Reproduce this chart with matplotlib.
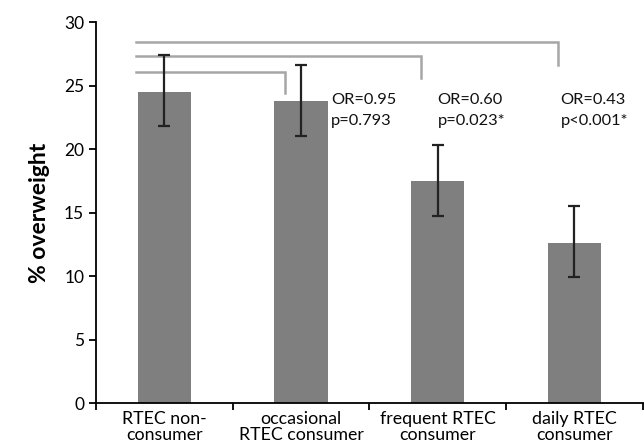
import numpy as np
import matplotlib.pyplot as plt

plt.rcParams['font.family'] = ['Lato', 'DejaVu Sans']

# --- Dados ---
categorias = ["RTEC non-\nconsumer", "occasional\nRTEC consumer",
              "frequent RTEC\nconsumer", "daily RTEC\nconsumer"]
valores = [24.5, 23.8, 17.5, 12.6]
erro_inf = [21.8, 21.0, 14.7, 9.9]
erro_sup = [27.4, 26.6, 20.3, 15.5]

anotacoes = ["OR=0.95\np=0.793", "OR=0.60\np=0.023*", "OR=0.43\np<0.001*"]
# brackets: altura da linha horizontal e altura onde termina a descida
bracket_y = [26.1, 27.35, 28.45]
bracket_fim = [24.45, 25.6, 26.6]

x = np.arange(len(categorias))
valores = np.array(valores)
yerr = [valores - np.array(erro_inf), np.array(erro_sup) - valores]

fig = plt.figure(figsize=(6.44, 4.44), dpi=100)
ax = fig.add_axes([0.149, 0.092, 0.849, 0.858])

ax.bar(x, valores, width=0.39, color="#7f7f7f", zorder=2)
ax.errorbar(x, valores, yerr=yerr, fmt="none", ecolor="#222222",
            elinewidth=1.6, capsize=4, capthick=1.6, zorder=3)

# brackets de comparação
inicio = -0.21
for i, (yb, yf) in enumerate(zip(bracket_y, bracket_fim)):
    fim = x[i + 1] - 0.12
    ax.plot([inicio, fim, fim], [yb, yb, yf], color="#a6a6a6", lw=1.8,
            solid_joinstyle="miter", zorder=1)

# textos OR / p
text_x = [1.22, 2.0, 2.9]
for tx, txt in zip(text_x, anotacoes):
    ax.text(tx, 24.45, txt, fontsize=11.8, va="top", ha="left",
            linespacing=1.65, color="#111111")

ax.set_xlim(-0.5, 3.5)
ax.set_ylim(0, 30)
ax.set_yticks(np.arange(0, 31, 5))
ax.set_xticks(x)
ax.set_xticklabels(categorias, fontsize=12.8, linespacing=0.95)
ax.set_xticks(np.arange(-0.5, 3.6, 1), minor=True)
ax.tick_params(axis="x", which="major", length=0, pad=6)
ax.tick_params(axis="x", which="minor", length=5, width=1.3)
ax.tick_params(axis="y", length=5, width=1.3, labelsize=12.5)

for s in ["top", "right"]:
    ax.spines[s].set_visible(False)
for s in ["left", "bottom"]:
    ax.spines[s].set_linewidth(1.3)

ax.set_ylabel("% overweight", fontsize=16.5, fontweight="bold", labelpad=10)

fig.savefig("out.png", dpi=100)
